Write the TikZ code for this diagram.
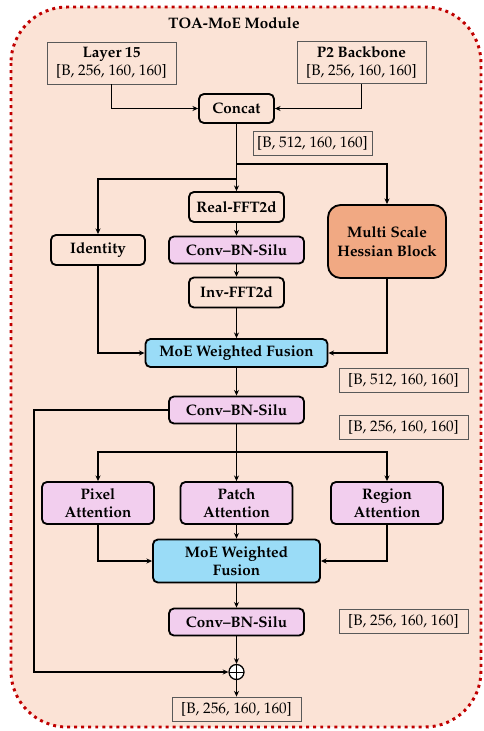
\documentclass[tikz,border=0pt]{standalone}
\usepackage[T1]{fontenc}
\usepackage{mathpazo}
\usepackage{tikz}
\usetikzlibrary{arrows.meta}

\definecolor{bgpeach}{HTML}{FBE3D6}
\definecolor{dotred}{HTML}{C00000}
\definecolor{hessorange}{HTML}{F1A983}
\definecolor{convpink}{HTML}{F2CEEE}
\definecolor{fuseblue}{HTML}{9ADCF7}
\definecolor{tagline}{HTML}{595959}

\begin{document}
\begin{tikzpicture}[x=0.025cm,y=-0.025cm,
	>={Stealth[length=4pt,width=3.6pt]},
	every node/.style={font=\fontsize{10.8}{13}\selectfont, inner sep=0pt, align=center},
	inbox/.style={draw=tagline, line width=0.6pt, minimum width=3.225cm, minimum height=1.05cm},
	tag/.style={draw=tagline, line width=0.6pt, minimum width=3.225cm, minimum height=0.6cm},
	block/.style={draw, line width=1.3pt, rounded corners=3.5pt, font=\fontsize{10.8}{13}\selectfont\bfseries},
	conv/.style={block, fill=convpink, minimum width=3.375cm, minimum height=0.675cm},
	fft/.style={block, minimum width=2.375cm, minimum height=0.75cm},
	attn/.style={block, fill=convpink, minimum width=2.8cm, minimum height=1.05cm},
	link/.style={line width=0.95pt}]
		\useasboundingbox (0,0) rectangle (484,731);
		\draw[fill=bgpeach, draw=dotred, line width=2.1pt, dash pattern=on 2.1pt off 2.9pt, rounded corners=1.4cm] (11,7) rectangle (481,727);
		\node[font=\fontsize{10.8}{13}\selectfont\bfseries] (title) at (234,23) {TOA-MoE Module};
		% inputs
		\node[inbox] (layer) at (111.5,63) {\textbf{Layer 15}\\{[B, 256, 160, 160]}};
		\node[inbox] (backbone) at (361.5,62.5) {\textbf{P2 Backbone}\\{[B, 256, 160, 160]}};
		\node[block, minimum width=1.875cm, minimum height=0.725cm] (concat) at (236.5,108.5) {Concat};
		\node[tag, minimum width=2.975cm] (tagcat) at (312.5,143) {[B, 512, 160, 160]};
		\draw[link,->] (layer.south) |- (concat.west);
		\draw[link,->] (backbone.south) |- (concat.east);
		% three experts
		\node[fft] (real) at (236.5,207) {Real-FFT2d};
		\node[conv] (convfreq) at (236.5,250) {Conv--BN-Silu};
		\node[fft] (inv) at (236.5,292.5) {Inv-FFT2d};
		\node[block, minimum width=2.35cm, minimum height=0.75cm] (ident) at (98,250) {Identity};
		\node[block, fill=hessorange, rounded corners=9pt, minimum width=2.95cm, minimum height=1.825cm] (hess) at (387,241.5) {Multi Scale\\Hessian Block};
		\node[block, fill=fuseblue, minimum width=4.55cm, minimum height=0.7cm] (fuseA) at (236.5,353) {MoE Weighted Fusion};
		\coordinate (splitA) at (236.5,164);
		\coordinate (splitB) at (236.5,179);
		\draw[link,->] (concat.south) -- (real.north);
		\draw[link,->] (splitA) -| (hess.north);
		\draw[link,->] (splitB) -| (ident.north);
		\draw[link,->] (real) -- (convfreq);
		\draw[link,->] (convfreq) -- (inv);
		\draw[link,->] (inv) -- (fuseA);
		\draw[link,->] (ident.south) |- (fuseA.west);
		\draw[link,->] (hess.south) |- (fuseA.east);
		\node[tag] (tagfuse) at (403.5,380) {[B, 512, 160, 160]};
		% attention experts
		\node[conv] (convmid) at (236.5,410) {Conv--BN-Silu};
		\node[tag] (tagmid) at (403.5,427) {[B, 256, 160, 160]};
		\draw[link,->] (fuseA) -- (convmid);
		\node[attn] (pixel) at (98,503) {Pixel\\Attention};
		\node[attn] (patch) at (236.5,503) {Patch\\Attention};
		\node[attn] (region) at (387,503) {Region\\Attention};
		\node[block, fill=fuseblue, minimum width=4.175cm, minimum height=1.075cm] (fuseB) at (236.5,561) {MoE Weighted\\Fusion};
		\coordinate (splitC) at (236.5,452);
		\draw[link,->] (convmid.south) -- (patch.north);
		\draw[link,->] (splitC) -| (pixel.north);
		\draw[link,->] (splitC) -| (region.north);
		\draw[link,->] (patch) -- (fuseB);
		\draw[link,->] (pixel.south) |- (fuseB.west);
		\draw[link,->] (region.south) |- (fuseB.east);
		% output
		\node[conv] (convout) at (236.5,622) {Conv--BN-Silu};
		\node[tag] (tagconv) at (403.5,621) {[B, 256, 160, 160]};
		\node[draw, circle, line width=0.9pt, fill=white, minimum size=0.375cm,
			path picture={\draw[line width=0.7pt] (path picture bounding box.north) -- (path picture bounding box.south)
				(path picture bounding box.west) -- (path picture bounding box.east);}] (add) at (236.5,672) {};
		\node[tag] (tagout) at (236.5,709) {[B, 256, 160, 160]};
		\coordinate (skip) at (34,672);
		\draw[link,->] (fuseB) -- (convout);
		\draw[link,->] (convout) -- (add);
		\draw[link,->] (convmid.west) -| (skip) -- (add.west);
		\draw[link,->] (add) -- (tagout);
\end{tikzpicture}
\end{document}
